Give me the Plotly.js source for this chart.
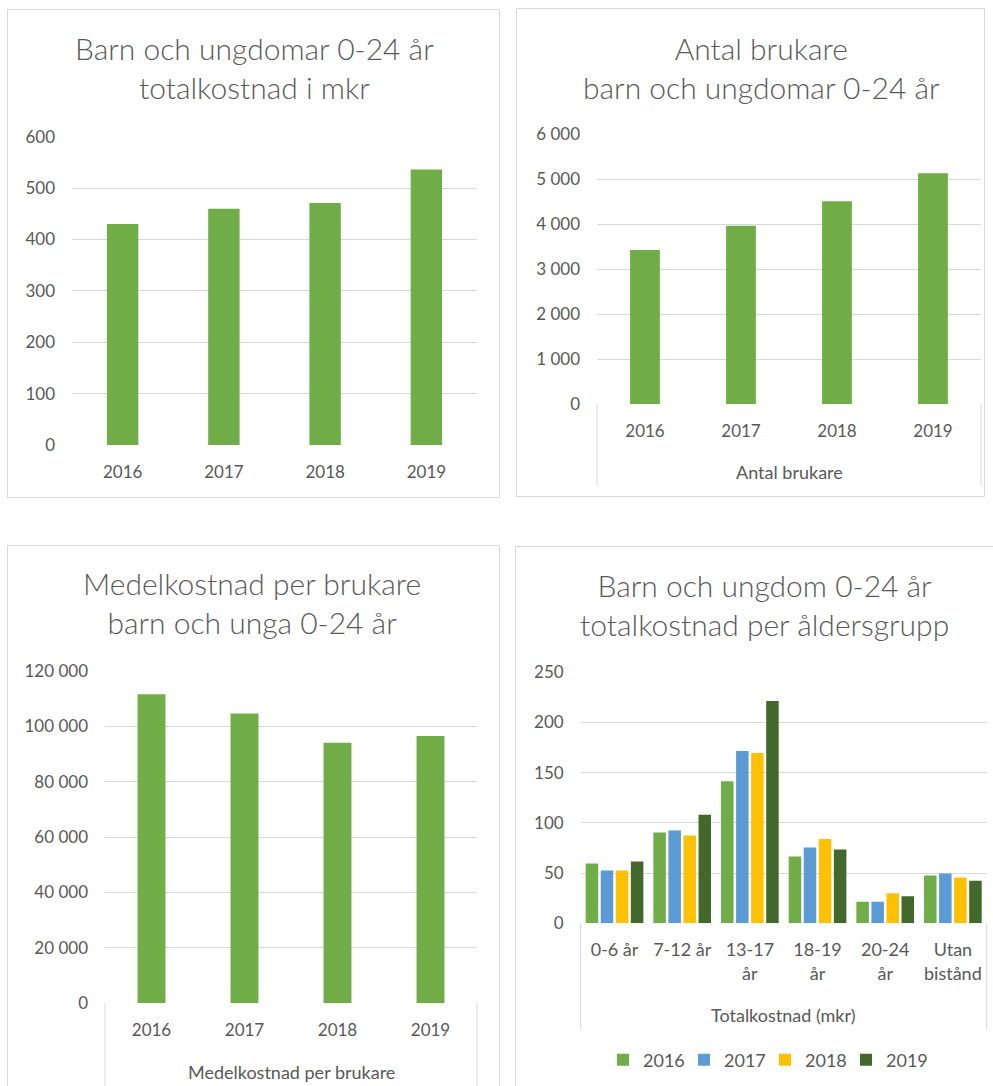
<!DOCTYPE html>
<html>
<head>
<meta charset="utf-8">
<script src="https://cdn.plot.ly/plotly-3.0.1.min.js"></script>
<style>
html,body{margin:0;padding:0;background:#fff;}
#chart{width:993px;height:1086px;}
</style>
</head>
<body>
<div id="chart"></div>
<script>
// ---------------- data ----------------
const years = ['2016', '2017', '2018', '2019'];
const totalCostMkr = [430, 460, 471, 536];
const users = [3426, 3967, 4509, 5132];
const avgCostPerUser = [111500, 104600, 94000, 96400];

const ageGroups = ['0-6 år', '7-12 år', '13-17 år', '18-19 år', '20-24 år', 'Utan bistånd'];
const ageGroupTickLabels = ['0-6 år', '7-12 år', '13-17<br>år', '18-19<br>år', '20-24<br>år', 'Utan<br>bistånd'];
const cost2016 = [59.5, 90.5, 141.5, 66.5, 21.5, 47.5];
const cost2017 = [52.5, 92.5, 171.5, 75.5, 21.5, 49.5];
const cost2018 = [52.5, 87.5, 169.5, 84, 30, 45.5];
const cost2019 = [61.5, 108, 221.5, 73.5, 27, 42.5];

const titles = [
  'Barn och ungdomar 0-24 år<br>totalkostnad i mkr',
  'Antal brukare<br>barn och ungdomar 0-24 år',
  'Medelkostnad per brukare<br>barn och unga 0-24 år',
  'Barn och ungdom 0-24 år<br>totalkostnad per åldersgrupp'
];
const groupLabels = ['Antal brukare', 'Medelkostnad per brukare', 'Totalkostnad (mkr)'];

// ---------------- style / geometry ----------------
const W = 993, H = 1086;
const px = x => x / W;
const py = y => 1 - y / H;
const FONT = 'Lato, "Open Sans", sans-serif';
const GREY = '#595959';
const GRID = '#D9D9D9';
const GREEN = '#70AD47', BLUE = '#5B9BD5', YELLOW = '#FFC000', DARK = '#43682B';

const tickFont = {family: FONT, size: 17, color: GREY};

function xAxis(x0, x1, anchor, extra) {
  return Object.assign({
    domain: [px(x0), px(x1)], anchor: anchor, type: 'category',
    showgrid: false, showline: false, zeroline: false, ticks: '',
    tickfont: tickFont, ticklabelstandoff: 15, fixedrange: true
  }, extra || {});
}
function yAxis(yBottom, yTop, anchor, range, dtick, extra) {
  return Object.assign({
    domain: [py(yBottom), py(yTop)], anchor: anchor, range: range, dtick: dtick,
    showgrid: true, gridcolor: GRID, gridwidth: 1, zeroline: false, showline: false,
    ticks: '', tickfont: tickFont, ticklabelstandoff: 16, fixedrange: true
  }, extra || {});
}

const traces = [
  {type: 'bar', x: years, y: totalCostMkr, xaxis: 'x', yaxis: 'y',
   marker: {color: GREEN}, width: 0.31, showlegend: false, hoverinfo: 'x+y'},
  {type: 'bar', x: years, y: users, xaxis: 'x2', yaxis: 'y2',
   marker: {color: GREEN}, width: 0.31, showlegend: false, hoverinfo: 'x+y'},
  {type: 'bar', x: years, y: avgCostPerUser, xaxis: 'x3', yaxis: 'y3',
   marker: {color: GREEN}, width: 0.30, showlegend: false, hoverinfo: 'x+y'},
  {type: 'bar', name: years[0], x: ageGroups, y: cost2016, xaxis: 'x4', yaxis: 'y4', marker: {color: GREEN}},
  {type: 'bar', name: years[1], x: ageGroups, y: cost2017, xaxis: 'x4', yaxis: 'y4', marker: {color: BLUE}},
  {type: 'bar', name: years[2], x: ageGroups, y: cost2018, xaxis: 'x4', yaxis: 'y4', marker: {color: YELLOW}},
  {type: 'bar', name: years[3], x: ageGroups, y: cost2019, xaxis: 'x4', yaxis: 'y4', marker: {color: DARK}}
];

const lineStyle = {color: GRID, width: 1};
const shapes = [
  // panel borders
  {type: 'rect', xref: 'paper', yref: 'paper', x0: px(7.5), x1: px(499.5), y0: py(497.5), y1: py(9.5), line: lineStyle},
  {type: 'rect', xref: 'paper', yref: 'paper', x0: px(516.5), x1: px(984.5), y0: py(496.5), y1: py(8.5), line: lineStyle},
  {type: 'rect', xref: 'paper', yref: 'paper', x0: px(7.5), x1: px(499.5), y0: py(1100), y1: py(545.5), line: lineStyle},
  {type: 'rect', xref: 'paper', yref: 'paper', x0: px(515.5), x1: px(1005), y0: py(1100), y1: py(546.5), line: lineStyle},
  // multi-level category axis boxes
  {type: 'line', xref: 'paper', yref: 'paper', x0: px(597), x1: px(597), y0: py(404), y1: py(486), line: lineStyle},
  {type: 'line', xref: 'paper', yref: 'paper', x0: px(981), x1: px(981), y0: py(404), y1: py(486), line: lineStyle},
  {type: 'line', xref: 'paper', yref: 'paper', x0: px(105), x1: px(105), y0: py(1003), y1: py(1100), line: lineStyle},
  {type: 'line', xref: 'paper', yref: 'paper', x0: px(477), x1: px(477), y0: py(1003), y1: py(1100), line: lineStyle},
  {type: 'line', xref: 'paper', yref: 'paper', x0: px(580.7), x1: px(580.7), y0: py(923), y1: py(1030), line: lineStyle},
  {type: 'line', xref: 'paper', yref: 'paper', x0: px(986.7), x1: px(986.7), y0: py(923), y1: py(1030), line: lineStyle}
];

const titleFont = {family: FONT, size: 30, color: GREY, weight: 300};
const groupFont = {family: FONT, size: 18, color: GREY};
function ann(text, x, y, font) {
  return {text: text, xref: 'paper', yref: 'paper', x: px(x), y: py(y),
          xanchor: 'center', yanchor: 'middle', showarrow: false, font: font};
}
const annotations = [
  ann(titles[0], 254, 67.5, titleFont),
  ann(titles[1], 761, 67.5, titleFont),
  ann(titles[2], 252, 602.5, titleFont),
  ann(titles[3], 764, 604, titleFont),
  ann(groupLabels[0], 789, 472, groupFont),
  ann(groupLabels[1], 291, 1071.5, groupFont),
  ann(groupLabels[2], 783.7, 1015, groupFont)
];

const layout = {
  width: W, height: H,
  margin: {l: 0, r: 0, t: 0, b: 0, pad: 0, autoexpand: false},
  paper_bgcolor: '#fff', plot_bgcolor: 'rgba(0,0,0,0)',
  font: {family: FONT, color: GREY},
  separators: ', ',
  barmode: 'group', bargap: 0.11, bargroupgap: 0.17,
  xaxis: xAxis(72, 477, 'y'),
  yaxis: yAxis(445, 136.7, 'x', [0, 600], 100),
  xaxis2: xAxis(597, 981, 'y2'),
  yaxis2: yAxis(404, 134.3, 'x2', [0, 6000], 1000, {tickformat: ',d'}),
  xaxis3: xAxis(105, 477, 'y3'),
  yaxis3: yAxis(1003.3, 670.7, 'x3', [0, 120000], 20000, {tickformat: ',d'}),
  xaxis4: xAxis(580.7, 986.7, 'y4', {tickmode: 'array', tickvals: ageGroups, ticktext: ageGroupTickLabels, tickangle: 0, ticklabelstandoff: 14, tickfont: {family: FONT, size: 18, color: GREY}}),
  yaxis4: yAxis(923.3, 672.3, 'x4', [0, 250], 50),
  showlegend: true,
  legend: {orientation: 'h', x: px(603), y: py(1060), xanchor: 'left', yanchor: 'middle',
           font: {family: FONT, size: 18, color: GREY}, entrywidth: 36, entrywidthmode: 'pixels',
           bgcolor: 'rgba(0,0,0,0)', traceorder: 'normal'},
  shapes: shapes,
  annotations: annotations
};

Plotly.newPlot('chart', traces, layout, {displayModeBar: false, responsive: false});
</script>
</body>
</html>
